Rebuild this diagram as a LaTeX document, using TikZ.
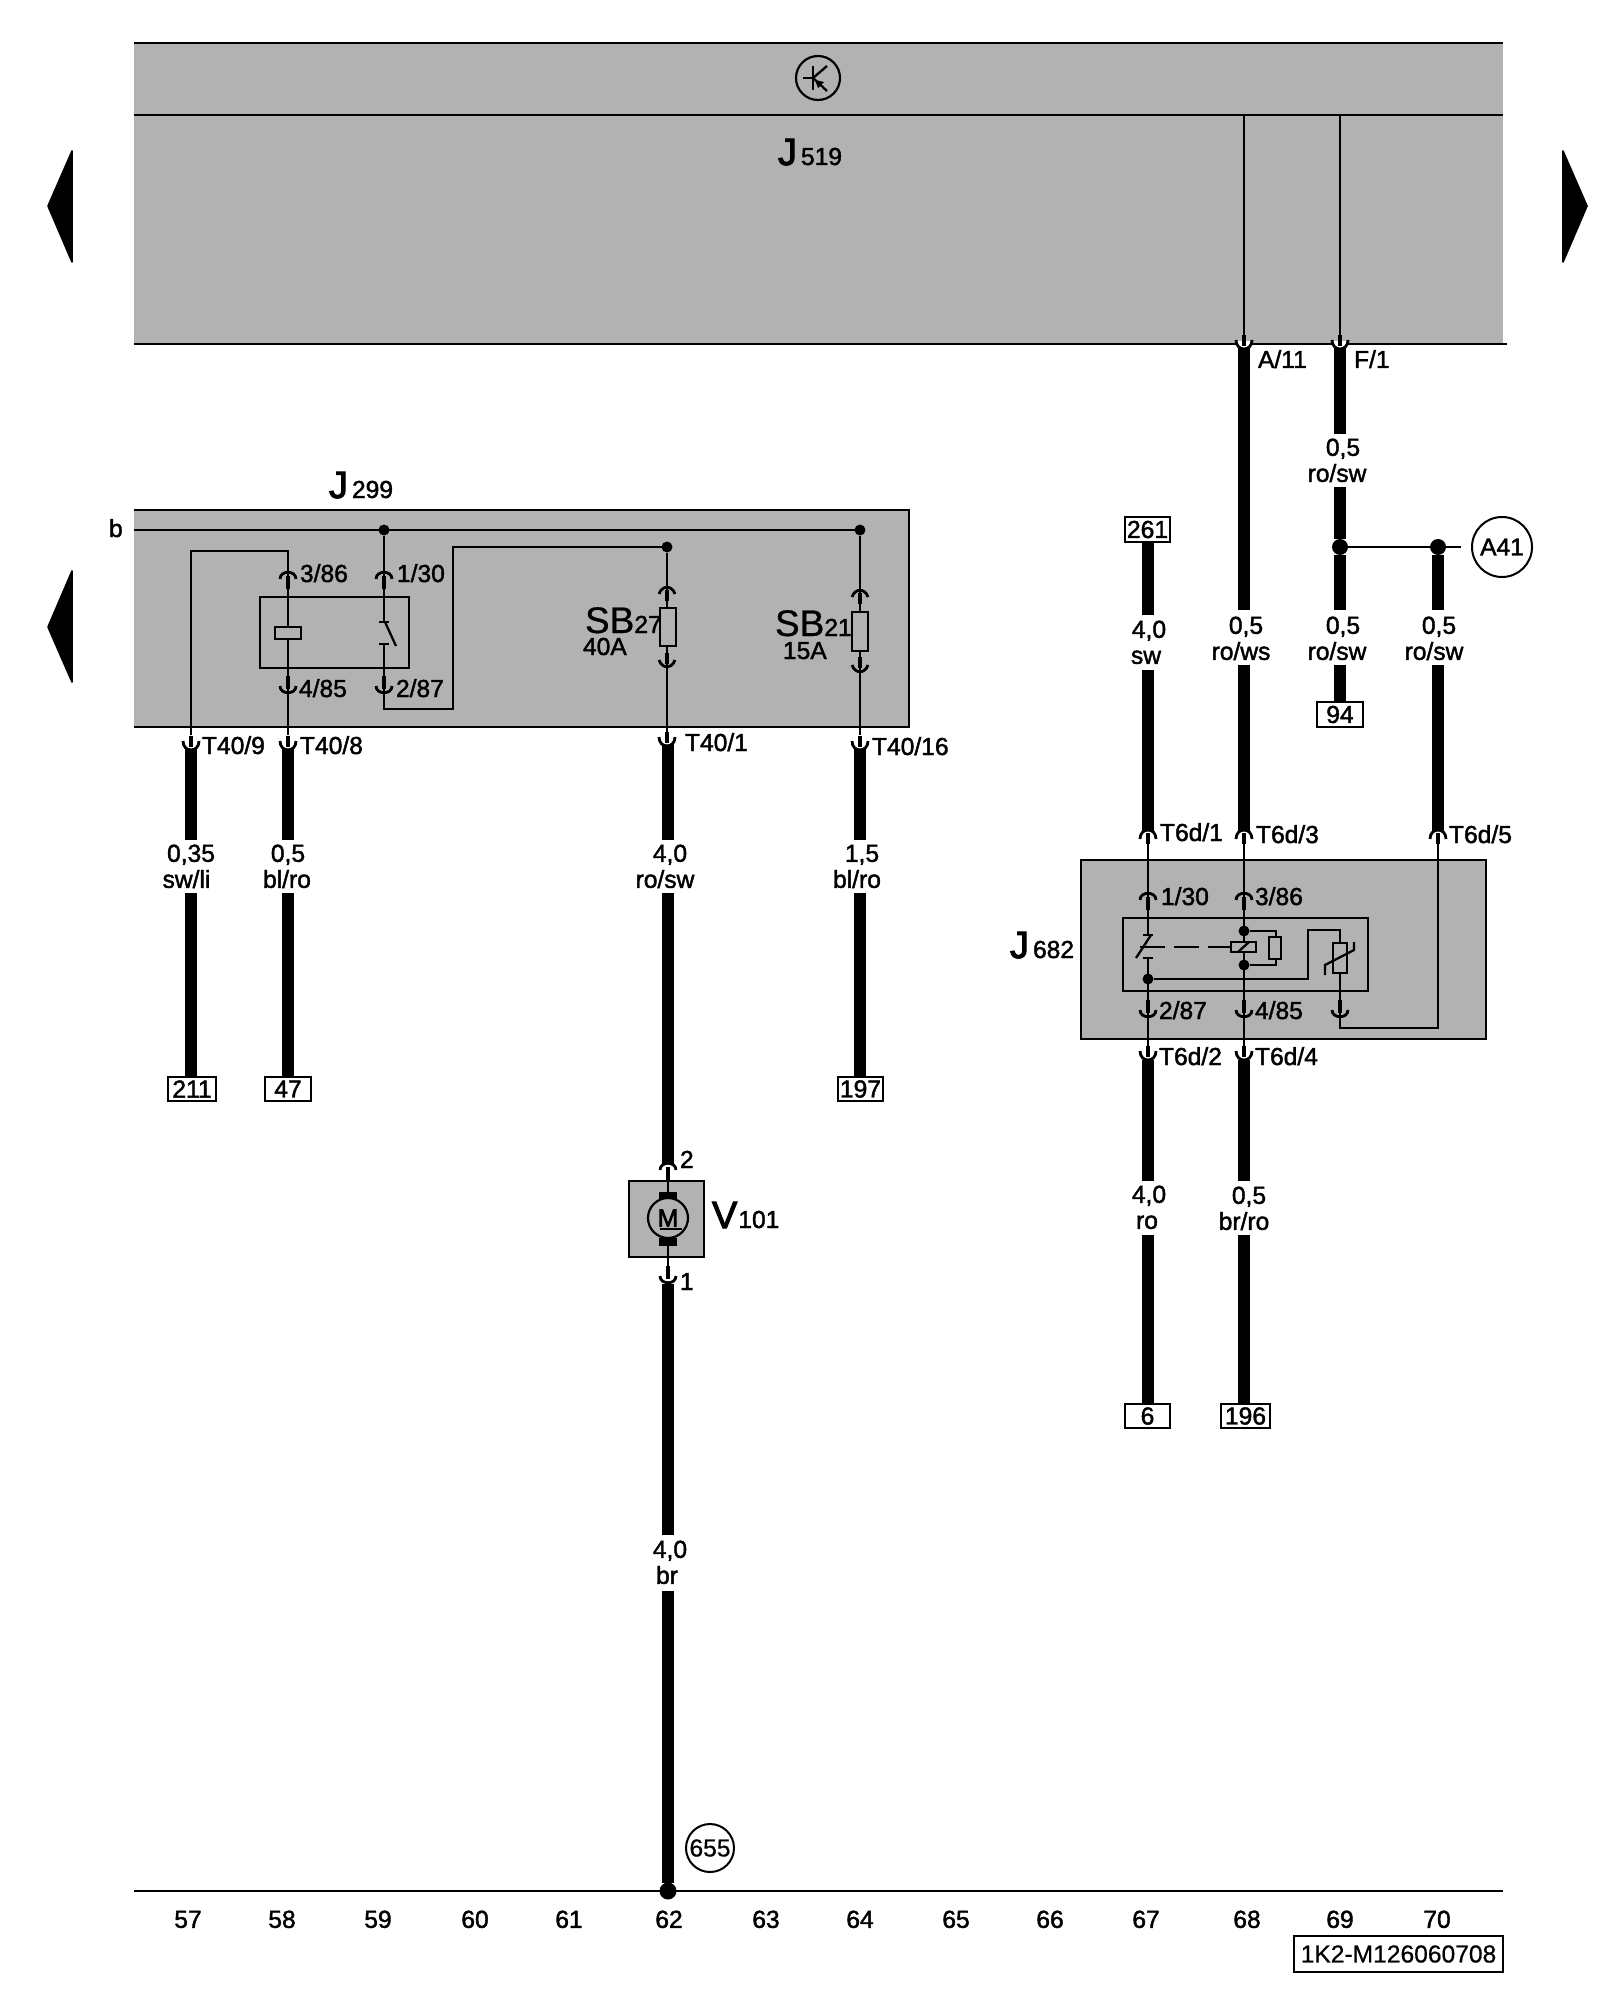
\documentclass[tikz,border=0pt]{standalone}
\usepackage{fontspec}
\setmainfont{Liberation Sans}
\newfontfamily\lf[FakeBold=1.7]{Liberation Sans}
\newfontfamily\rf[FakeBold=0.6]{Liberation Sans}
\newfontfamily\hf[FakeBold=2.6]{Liberation Sans}
\newcount\lblcnt
\definecolor{ecugray}{RGB}{178,178,178}
\tikzset{
 every node/.style={inner sep=0pt,outer sep=0pt},
 thinw/.style={line width=1.15pt,black},
 thickw/.style={line width=6.2pt,black},
 stubw/.style={line width=2.4pt,black},
 pinarc/.style={line width=1.4pt,black},
 ecu/.style={fill=ecugray,anchor=north west},
 inner/.style={draw=black,line width=1.1pt,anchor=north west},
 sym/.style={draw=black,line width=1.1pt,fill=ecugray,anchor=north west},
 termbox/.style={draw=black,line width=1.1pt,fill=white,anchor=north west,font=\lf\fontsize{12.3}{14}\selectfont},
 gapbox/.style={minimum width=6pt,anchor=north},
 dotj/.style={circle,fill=black,minimum size=#1},
 dotj/.default=5.5pt,
 lab/.style={anchor=base west,font=\lf\fontsize{12.3}{14}\selectfont},
 labc/.style={anchor=base,font=\lf\fontsize{12.3}{14}\selectfont},
 mk/.style={fill=black,draw=black,line width=.8pt,line join=round},
}
\newcommand\boxn[6]{\pgfmathsetmacro\bw{(#5-#3)*0.5}\pgfmathsetmacro\bh{(#6-#4)*0.5}%
 \node[#1,minimum width=\bw pt,minimum height=\bh pt] (#2) at (#3,#4) {};}
\newcommand\tbox[6]{\pgfmathsetmacro\bw{(#5-#3)*0.5}\pgfmathsetmacro\bh{(#6-#4)*0.5}%
 \node[termbox,minimum width=\bw pt,minimum height=\bh pt] (#1) at (#3,#4) {\raisebox{-.5pt}{#2}};}
\newcommand\gp[4]{\pgfmathsetmacro\bh{(#4-#3)*0.5}\node[gapbox,minimum height=\bh pt] (#1) at (#2,#3) {};}
\newcommand\lb[3]{\global\advance\lblcnt by 1\node[lab,name=l\the\lblcnt] at (#1,#2+8) {#3};}
\newcommand\lc[3]{\global\advance\lblcnt by 1\node[labc,name=l\the\lblcnt] at (#1,#2+8.8) {#3};}
\newcommand\biglab[6]{\global\advance\lblcnt by 1\node[anchor=base west,name=l\the\lblcnt] at (#1,#2) {#6\fontsize{#5}{20}\selectfont #3\lf\fontsize{12.3}{14}\selectfont #4};}
\newcommand\pinu[2]{\draw[pinarc] ({#1-8},{#2+7}) .. controls ({#1-8},{#2-2}) and ({#1+8},{#2-2}) .. ({#1+8},{#2+7});
 \draw[stubw] (#1,{#2+4}) -- (#1,{#2+17});}
\newcommand\pind[2]{\draw[pinarc] ({#1-8},{#2-7}) .. controls ({#1-8},{#2+2}) and ({#1+8},{#2+2}) .. ({#1+8},{#2-7});
 \draw[stubw] (#1,{#2-4}) -- (#1,{#2-17});}
\newcommand\hpind[2]{\fill[white] ({#1-7},{#2-8}) .. controls ({#1-7},{#2+1}) and ({#1+7},{#2+1}) .. ({#1+7},{#2-8}) -- cycle;
 \draw[pinarc] ({#1-8},{#2-9}) .. controls ({#1-8},{#2+3}) and ({#1+8},{#2+3}) .. ({#1+8},{#2-9});
 \draw[stubw] (#1,{#2-14}) -- (#1,{#2-3});}
\newcommand\hpinu[2]{\fill[white] ({#1-7},{#2+8}) .. controls ({#1-7},{#2-1}) and ({#1+7},{#2-1}) .. ({#1+7},{#2+8}) -- cycle;
 \draw[pinarc] ({#1-8},{#2+9}) .. controls ({#1-8},{#2-3}) and ({#1+8},{#2-3}) .. ({#1+8},{#2+9});
 \draw[stubw] (#1,{#2+14}) -- (#1,{#2+3});}
\begin{document}
\begin{tikzpicture}[x=0.5pt,y=-0.5pt]
\useasboundingbox (0,0) rectangle (1600,2000);
\fill[white] (0,0) rectangle (1600,2000);
% side markers
\fill[mk] (48,206) -- (72,151) -- (72,262) -- cycle;
\fill[mk] (48,627) -- (72,571) -- (72,682) -- cycle;
\fill[mk] (1587,206) -- (1563,151) -- (1563,262) -- cycle;
% control units
\boxn{ecu}{j519}{134}{43}{1503}{344}
\draw[thinw,line width=1.2pt] (j519.north west) -- (j519.north east);
\draw[thinw,line width=1.2pt] (134,115) -- (1503,115);
\coordinate (j519r) at (1507,344);
\draw[thinw,line width=1.2pt] (j519.south west) -- (j519r);
\boxn{ecu}{j299}{134}{510}{909}{727}
\draw[thinw,line width=1.2pt] (j299.north west) -- (j299.north east) -- (j299.south east) -- (j299.south west);
\boxn{ecu,draw=black,line width=1.1pt}{j682}{1081}{860}{1486}{1039}
\boxn{ecu,draw=black,line width=1.1pt}{v101}{629}{1181}{704}{1257}
% transistor symbol
\node[circle,draw=black,line width=1.1pt,minimum size=22pt] (tr) at (818,78) {};
\draw[thinw] (803,78) -- (813,78);
\draw[thinw] (813,66) -- (813,90);
\draw[thinw] (813,78) -- (827,66);
\draw[thinw] (813,78) -- (827,91);
\fill (815,80) -- (824,82) -- (818,88) -- cycle;
% J519 wires
\coordinate (a11t) at (1244,115); \coordinate (a11b) at (1244,340);
\coordinate (f1t) at (1340,115); \coordinate (f1b) at (1340,340);
\draw[thinw] (a11t) -- (a11b);
\draw[thinw] (f1t) -- (f1b);
% J299 internals
\coordinate (bL) at (134,530); \coordinate (bR) at (860,530);
\draw[thinw] (bL) -- (bR);
\node[dotj] (d1) at (384,530) {};
\node[dotj] (d2) at (860,530) {};
\node[dotj] (d3) at (667,547) {};
\boxn{inner}{rel1}{260}{597}{409}{668}
\coordinate (t409) at (191,735); \coordinate (c1) at (191,551); \coordinate (c2) at (288,551);
\coordinate (t408) at (288,735);
\draw[thinw] (t409) -- (c1) -- (c2) -- (t408);
\boxn{sym}{coil1}{275}{627}{301}{639}
\coordinate (s1) at (384,622); \coordinate (s2) at (384,644); \coordinate (s3) at (384,709);
\coordinate (s4) at (453,709); \coordinate (s5) at (453,547);
\draw[thinw] (d1) -- (s1);
\draw[thinw] (379,622) -- (389,622);
\draw[thinw] (385,622) -- (396,646);
\draw[thinw] (379,644) -- (389,644);
\draw[thinw] (s2) -- (s3) -- (s4) -- (s5) -- (d3);
\coordinate (t401) at (667,732); \coordinate (t4016) at (860,735);
\draw[thinw] (d3) -- (t401);
\draw[thinw] (d2) -- (t4016);
\boxn{sym}{fu27}{660}{608}{676}{646}
\boxn{sym}{fu21}{852}{612}{868}{651}
\pinu{288}{572}\pinu{384}{572}\pind{288}{693}\pind{384}{693}
\draw[pinarc] (659,594) .. controls (662,585) and (672,585) .. (675,594);
\draw[stubw] (667,590) -- (667,601);
\draw[pinarc] (659,660) .. controls (662,669) and (672,669) .. (675,660);
\draw[stubw] (667,653) -- (667,664);
\draw[pinarc] (852,597) .. controls (855,588) and (865,588) .. (868,597);
\draw[stubw] (860,593) -- (860,604);
\draw[pinarc] (852,665) .. controls (855,674) and (865,674) .. (868,665);
\draw[stubw] (860,657) -- (860,668);
% J682 internals
\boxn{inner}{rel2}{1123}{918}{1368}{991}
\coordinate (t1a) at (1148,842); \coordinate (t1b) at (1148,935);
\draw[thinw] (t1a) -- (t1b);
\draw[thinw] (1143,935) -- (1153,935);
\draw[thinw] (1151,935) -- (1136,958);
\draw[thinw] (1143,958) -- (1153,958);
\node[dotj] (d4) at (1148,979) {};
\coordinate (t2s) at (1148,958); \coordinate (t2e) at (1148,1050);
\draw[thinw] (t2s) -- (t2e);
\coordinate (t3a) at (1244,842); \coordinate (t3e) at (1244,1050);
\draw[thinw] (t3a) -- (t3e);
\node[dotj] (d5) at (1244,931) {};
\node[dotj] (d6) at (1244,965) {};
\coordinate (b1) at (1276,931); \coordinate (b2) at (1276,965);
\draw[thinw] (d5) -- (b1) -- (b2) -- (d6);
\boxn{sym}{res}{1269}{937}{1281}{959}
\coordinate (cd) at (1231,947);
\draw[thinw,dash pattern=on 12.5pt off 4.5pt] (1140,947) -- (cd);
\boxn{sym}{coil2}{1231}{942}{1256}{952}
\draw[thinw] (1238,952) -- (1249,942);
\coordinate (n1) at (1308,979); \coordinate (n2) at (1308,930); \coordinate (n3) at (1340,930);
\coordinate (n4) at (1340,1028); \coordinate (n5) at (1438,1028); \coordinate (n6) at (1438,842);
\draw[thinw] (d4) -- (n1) -- (n2) -- (n3) -- (n4) -- (n5) -- (n6);
\boxn{sym}{thm}{1333}{943}{1347}{973}
\draw[thinw] (1325,975) -- (1325,965) -- (1354,950) -- (1354,942);
\pinu{1148}{893}\pinu{1244}{893}\pind{1148}{1017}\pind{1244}{1017}\pind{1340}{1017}
% motor
\coordinate (m1) at (668,1172); \coordinate (m2) at (668,1272); \coordinate (m1t) at (668,1164);
\draw[thinw] (m1) -- (m2);
\fill (659,1192) rectangle (677,1201);
\fill (659,1238) rectangle (677,1246);
\node[circle,draw=black,line width=1.1pt,fill=ecugray,minimum size=20pt,font=\hf\fontsize{12.3}{14}\selectfont] (mot) at (668,1218) {M};
\draw[thinw] (660,1229) -- (682,1229);
\pinu{668}{1163}\pind{668}{1283}
% ground bus
\coordinate (gL) at (134,1891); \coordinate (gR) at (1503,1891);
\draw[thinw,line width=1.2pt] (gL) -- (gR);
\node[dotj=8.5pt] (gd) at (668,1891) {};
\node[circle,draw=black,line width=1pt,fill=white,minimum size=24pt,font=\rf\fontsize{12.3}{14}\selectfont] (n655) at (710,1848) {655};
% terminal boxes
\tbox{b211}{211}{168}{1077}{216}{1101}
\tbox{b47}{47}{265}{1077}{311}{1101}
\tbox{b197}{197}{838}{1077}{883}{1101}
\tbox{b261}{261}{1125}{517}{1170}{542}
\tbox{b94}{94}{1317}{702}{1363}{727}
\tbox{b6}{6}{1125}{1404}{1170}{1428}
\tbox{b196}{196}{1221}{1404}{1270}{1428}
\node[circle,draw=black,line width=1pt,fill=white,minimum size=30pt,font=\lf\fontsize{12.3}{14}\selectfont] (a41) at (1502,547) {A41};
% gaps
\gp{g1}{191}{840}{893}\gp{g2}{288}{840}{893}\gp{g3}{668}{840}{893}\gp{g4}{860}{840}{893}
\gp{g5}{668}{1535}{1591}
\gp{g6}{1148}{615}{670}\gp{g7}{1244}{610}{665}\gp{g8}{1340}{434}{487}\gp{g9}{1340}{610}{665}\gp{g10}{1438}{610}{665}
\gp{g11}{1148}{1181}{1235}\gp{g12}{1244}{1181}{1235}
% harness wires
\coordinate (h1) at (191,746);\coordinate (h2) at (288,746);\coordinate (h3) at (668,742);\coordinate (h4) at (860,746);
\draw[thickw] (h1) -- (g1.north); \draw[thickw] (g1.south) -- (b211.north -| h1);
\draw[thickw] (h2) -- (g2.north); \draw[thickw] (g2.south) -- (b47.north -| h2);
\draw[thickw] (h3) -- (g3.north); \draw[thickw] (g3.south) -- (m1t);
\draw[thickw] (h4) -- (g4.north); \draw[thickw] (g4.south) -- (b197.north -| h4);
\coordinate (h5) at (668,1284);
\draw[thickw] (h5) -- (g5.north); \draw[thickw] (g5.south) -- (gd);
\coordinate (h6) at (1148,832); \coordinate (h7) at (1244,348); \coordinate (h7b) at (1244,832);
\coordinate (h8) at (1340,348); \coordinate (h10) at (1438,832);
\node[dotj=8pt] (d7) at (1340,547) {};
\node[dotj=8pt] (d8) at (1438,547) {};
\draw[thickw] (b261.south -| h6) -- (g6.north); \draw[thickw] (g6.south) -- (h6);
\draw[thickw] (h7) -- (g7.north); \draw[thickw] (g7.south) -- (h7b);
\draw[thickw] (h8) -- (g8.north); \draw[thickw] (g8.south) -- (d7) -- (g9.north); \draw[thickw] (g9.south) -- (b94.north -| g9);
\draw[thickw] (d8) -- (g10.north); \draw[thickw] (g10.south) -- (h10);
\coordinate (a41e) at (1461,547);
\draw[thinw,line width=1.2pt] (d7) -- (a41e);
\coordinate (h11) at (1148,1060); \coordinate (h12) at (1244,1060);
\draw[thickw] (h11) -- (g11.north); \draw[thickw] (g11.south) -- (b6.north -| h11);
\draw[thickw] (h12) -- (g12.north); \draw[thickw] (g12.south) -- (b196.north -| h12);
% harness pins
\hpind{191}{750}\hpind{288}{750}\hpind{667}{746}\hpind{860}{750}
\hpind{1244}{349}\hpind{1340}{349}
\hpinu{1148}{830}\hpinu{1244}{830}\hpinu{1438}{830}
\hpind{1148}{1060}\hpind{1244}{1060}
% labels
\biglab{778}{165}{J\hspace{2pt}}{519}{19}{\hf}
\biglab{329}{498}{J\hspace{2pt}}{299}{19}{\hf}
\biglab{1010}{958}{J\hspace{2pt}}{682}{19}{\hf}
\biglab{712}{1228}{V\hspace{.5pt}}{101}{19}{\hf}
\biglab{585}{633}{SB}{27}{18.5}{\rf}
\biglab{775}{636}{SB}{21}{18.5}{\rf}
\lb{583}{647}{40A}\lb{783}{651}{15A}
\lb{109}{529}{b}
\lb{300}{574}{3/86}\lb{397}{574}{1/30}\lb{299}{689}{4/85}\lb{396}{689}{2/87}
\lb{202}{746}{T40/9}\lb{300}{746}{T40/8}\lb{685}{743}{T40/1}\lb{872}{747}{T40/16}
\lb{1258}{360}{A/11}\lb{1354}{360}{F/1}
\lb{1161}{897}{1/30}\lb{1255}{897}{3/86}\lb{1159}{1011}{2/87}\lb{1255}{1011}{4/85}
\lb{1160}{833}{T6d/1}\lb{1256}{835}{T6d/3}\lb{1449}{835}{T6d/5}\lb{1159}{1057}{T6d/2}\lb{1255}{1057}{T6d/4}
\lb{680}{1160}{2}\lb{680}{1282}{1}
\lc{191}{853}{0,35}\lc{186.5}{879}{sw/li}
\lc{288}{853}{0,5}\lc{287}{879}{bl/ro}
\lc{670}{853}{4,0}\lc{665}{879}{ro/sw}
\lc{862}{853}{1,5}\lc{857}{879}{bl/ro}
\lc{670}{1549}{4,0}\lc{667}{1575}{br}
\lc{1149}{629}{4,0}\lc{1146}{655}{sw}
\lc{1246}{625}{0,5}\lc{1241}{651}{ro/ws}
\lc{1343}{447}{0,5}\lc{1337}{473}{ro/sw}
\lc{1343}{625}{0,5}\lc{1337}{651}{ro/sw}
\lc{1439}{625}{0,5}\lc{1434}{651}{ro/sw}
\lc{1149}{1194}{4,0}\lc{1147}{1220}{ro}
\lc{1249}{1195}{0,5}\lc{1244}{1221}{br/ro}
% column numbers
\lc{188}{1919}{57}\lc{282}{1919}{58}\lc{378}{1919}{59}\lc{475}{1919}{60}\lc{569}{1919}{61}\lc{669}{1919}{62}\lc{766}{1919}{63}\lc{860}{1919}{64}\lc{956}{1919}{65}\lc{1050}{1919}{66}\lc{1146}{1919}{67}\lc{1247}{1919}{68}\lc{1340}{1919}{69}\lc{1437}{1919}{70}
% title block
\pgfmathsetmacro\bw{(1503-1294)*0.5}\pgfmathsetmacro\bh{(1972-1936)*0.5}
\node[draw=black,line width=1.1pt,anchor=north west,minimum width=\bw pt,minimum height=\bh pt,font=\rf\fontsize{12.3}{14}\selectfont] (tb) at (1294,1936) {1K2-M126060708};
\end{tikzpicture}
\end{document}
